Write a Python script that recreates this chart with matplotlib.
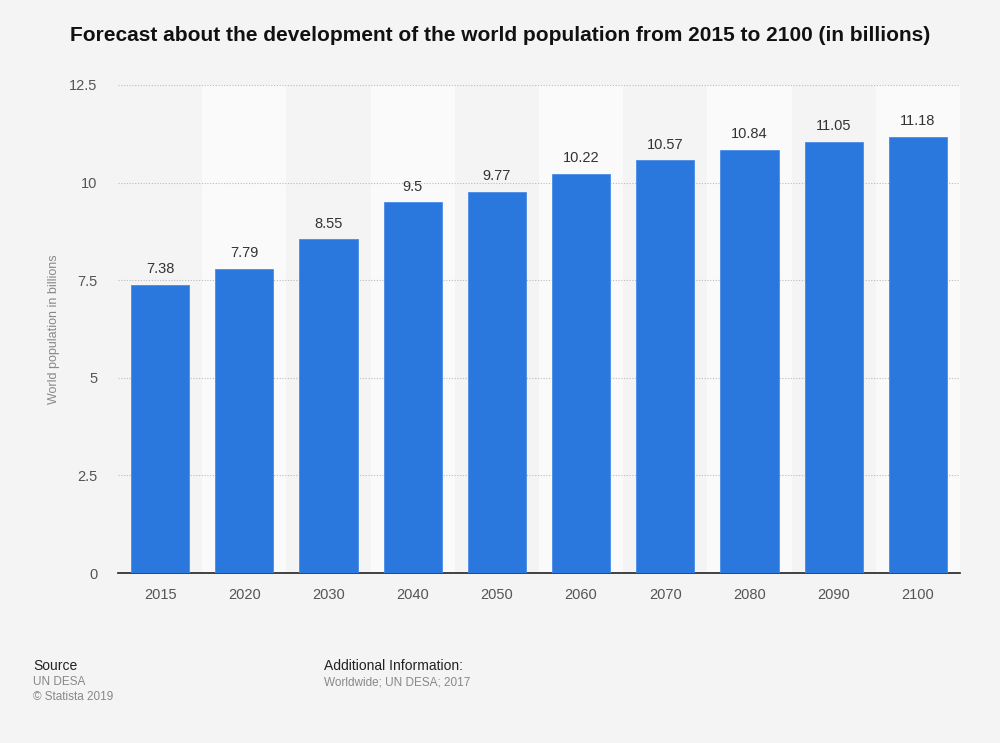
import numpy as np
import matplotlib
matplotlib.use('Agg')
import matplotlib.pyplot as plt

years = ['2015', '2020', '2030', '2040', '2050', '2060', '2070', '2080', '2090', '2100']
population = [7.38, 7.79, 8.55, 9.5, 9.77, 10.22, 10.57, 10.84, 11.05, 11.18]
y_ticks = [0, 2.5, 5, 7.5, 10, 12.5]
y_tick_labels = ['0', '2.5', '5', '7.5', '10', '12.5']

plt.rcParams['font.family'] = ['Liberation Sans', 'DejaVu Sans']

fig = plt.figure(figsize=(10, 7.43), dpi=100)
fig.patch.set_facecolor('#f4f4f4')
ax = fig.add_axes([0.118, 0.2288, 0.842, 0.6568])
ax.set_facecolor('#f4f4f4')

x = np.arange(len(years))

# alternating column bands
for i in x:
    if i % 2 == 1:
        ax.axvspan(i - 0.5, i + 0.5, color='#fafafa', zorder=0, lw=0)

ax.set_xlim(-0.5, len(years) - 0.5)
ax.set_ylim(0, 12.5)
ax.set_yticks(y_ticks)
ax.set_yticklabels(y_tick_labels)
ax.yaxis.grid(True, linestyle=(0, (1, 1.5)), color='#bbbbbb', linewidth=0.8, zorder=1)
ax.set_axisbelow(True)

bars = ax.bar(x, population, width=0.69, color='#2a77dd', edgecolor='#4a8ce6',
              linewidth=0.6, zorder=3)
for xi, v in zip(x, population):
    ax.text(xi, v + 0.22, f'{v:g}', ha='center', va='bottom', fontsize=10.5,
            color='#333333', zorder=4)

ax.set_xticks(x)
ax.set_xticklabels(years)
for side in ['top', 'right', 'left']:
    ax.spines[side].set_visible(False)
ax.spines['bottom'].set_color('#222222')
ax.spines['bottom'].set_linewidth(1.2)
ax.tick_params(axis='both', length=0, labelsize=10.5, labelcolor='#555555')
ax.tick_params(axis='x', pad=11)
ax.tick_params(axis='y', pad=15)

ax.set_ylabel('World population in billions', fontsize=9, color='#888888', labelpad=6)

fig.text(0.5, 0.952, 'Forecast about the development of the world population from 2015 to 2100 (in billions)',
         ha='center', va='center', fontsize=15, fontweight='bold', color='#111111')

fig.text(0.033, 0.104, 'Source', fontsize=10, color='#222222', va='center')
fig.text(0.033, 0.082, 'UN DESA', fontsize=8.5, color='#888888', va='center')
fig.text(0.033, 0.062, '© Statista 2019', fontsize=8.5, color='#888888', va='center')
fig.text(0.324, 0.104, 'Additional Information:', fontsize=10, color='#222222', va='center')
fig.text(0.324, 0.082, 'Worldwide; UN DESA; 2017', fontsize=8.5, color='#888888', va='center')

fig.savefig('out.png', dpi=100, facecolor=fig.get_facecolor())
